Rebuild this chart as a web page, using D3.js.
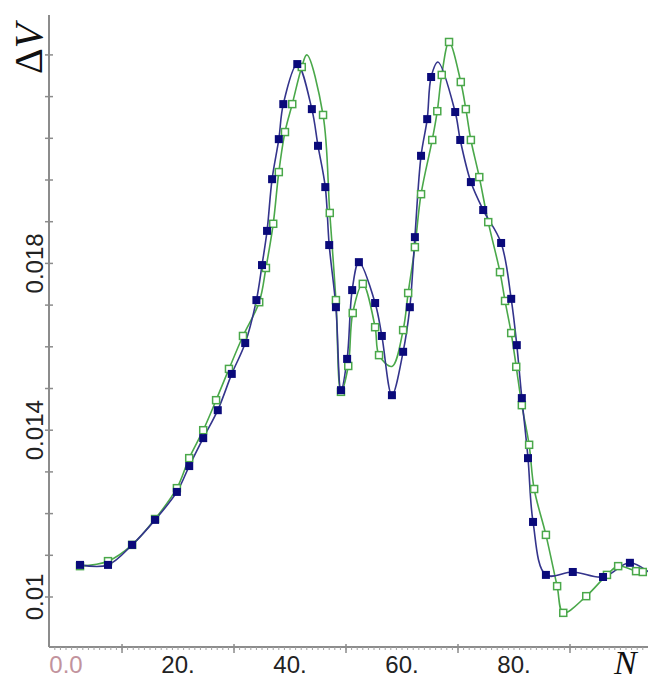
<!DOCTYPE html>
<html>
<head>
<meta charset="utf-8">
<script src="https://cdn.jsdelivr.net/npm/d3@7"></script>
<style>
  html, body { margin: 0; padding: 0; background: #fff; }
  svg { display: block; }
</style>
</head>
<body>
<svg id="chart" width="648" height="682"></svg>
<script>
// ---------- data ----------
// blue series: N, ΔV, marker flag (1 = square drawn, 0 = curve vertex only)
const blueN = [2.5, 7.5, 11.8, 15.9, 19.8, 22.0, 24.5, 27.1, 29.6, 32.0, 34.0, 35.0, 35.9, 36.8, 38.0, 38.8, 41.3,
  43.9, 45.0, 46.3, 47.0, 48.2, 49.1, 50.2, 51.1, 52.3, 55.2, 56.4, 58.2, 60.2, 61.4, 62.3, 63.4, 64.5, 65.2, 66.4,
  69.5, 70.4, 72.3, 74.5, 77.7, 79.5, 80.5, 81.4, 82.5, 83.4, 85.7, 90.5, 95.9, 100.7, 105.5];
const blueV = [0.01077, 0.01077, 0.01125, 0.01185, 0.01252, 0.01314, 0.01381, 0.01448, 0.01535, 0.01609, 0.01712, 0.01796, 0.01878, 0.02002, 0.02098, 0.02182, 0.02278,
  0.02170, 0.02082, 0.01983, 0.01844, 0.01695, 0.01496, 0.01571, 0.01736, 0.01803, 0.01705, 0.01626, 0.01484, 0.01588, 0.01695, 0.01863, 0.02058, 0.02146, 0.02247, 0.02283,
  0.02163, 0.02096, 0.01995, 0.01928, 0.01849, 0.01715, 0.01604, 0.01477, 0.01333, 0.01180, 0.01053, 0.01060, 0.01048, 0.01082, 0.01045];
const blueMark = [1,1,1,1,1,1,1,1,1,1,1,1,1,1,1,1,1,
  1,1,1,1,1,1,1,1,1,1,1,1,1,1,1,1,1,1,0,
  1,1,1,1,1,1,1,1,1,1,1,1,1,1,0];

// green series
const greenN = [2.5, 7.5, 11.8, 15.9, 19.8, 22.0, 24.5, 26.8, 29.1, 31.6, 34.5, 35.7, 37.0, 38.0, 39.1, 40.4, 42.1, 43.0,
  45.9, 47.1, 48.2, 49.1, 50.4, 51.2, 53.0, 55.2, 55.9, 58.2, 60.2, 61.1, 62.3, 63.4, 65.4, 66.3, 67.1, 68.4,
  70.5, 71.4, 72.3, 73.8, 75.4, 77.5, 78.4, 79.5, 80.4, 81.4, 82.7, 83.6, 85.7, 87.7, 88.8, 92.9, 96.6, 98.6, 101.8, 103.0];
const greenV = [0.01074, 0.01086, 0.01125, 0.01187, 0.01261, 0.01333, 0.01400, 0.01472, 0.01547, 0.01626, 0.01707, 0.01789, 0.01895, 0.02019, 0.02115, 0.02182, 0.02271, 0.02300,
  0.02156, 0.01921, 0.01712, 0.01492, 0.01554, 0.01681, 0.01751, 0.01647, 0.01580, 0.01553, 0.01640, 0.01729, 0.01839, 0.01966, 0.02096, 0.02165, 0.02252, 0.02331,
  0.02235, 0.02170, 0.02096, 0.02007, 0.01899, 0.01779, 0.01710, 0.01633, 0.01552, 0.01460, 0.01365, 0.01259, 0.01149, 0.01026, 0.00962, 0.01002, 0.01053, 0.01074, 0.01062, 0.01060];
const greenMark = [1,1,1,1,1,1,1,1,1,1,1,1,1,1,1,1,1,0,
  1,1,1,1,1,1,1,1,1,0,1,1,1,1,1,1,1,1,
  1,1,1,1,1,1,1,1,1,1,1,1,1,1,1,1,1,1,1,1];

// axes
const xTickValues = [0, 20, 40, 60, 80];
const xTickLabels = ["0.0", "20.", "40.", "60.", "80."];
const xMajorTicks = [10, 30, 50, 70, 90];
const yTickValues = [0.010, 0.014, 0.018];
const yTickLabels = ["0.01", "0.014", "0.018"];
const xTitle = "N";
const yTitle = ["Δ", "V"];

// ---------- drawing ----------
const svg = d3.select("#chart");
const x = d3.scaleLinear().domain([-3.04, 103.93]).range([49, 648]);
const y = d3.scaleLinear().domain([0.008801, 0.023957]).range([647, 15]);

const axisColor = "#8c8c8c";

// x axis line & ticks
svg.append("line").attr("x1", x(-3.04)).attr("x2", 648)
  .attr("y1", y(0.008801)).attr("y2", y(0.008801))
  .attr("stroke", axisColor).attr("stroke-width", 2);
const minor = d3.range(-2, 104, 1);
svg.append("g").selectAll("line").data(minor).join("line")
  .attr("x1", d => x(d)).attr("x2", d => x(d))
  .attr("y1", y(0.008801)).attr("y2", y(0.008801) + 3)
  .attr("stroke", "#a0a0a0").attr("stroke-width", 1);
svg.append("g").selectAll("line").data(xMajorTicks).join("line")
  .attr("x1", d => x(d)).attr("x2", d => x(d))
  .attr("y1", y(0.008801) - 3).attr("y2", y(0.008801) + 6)
  .attr("stroke", axisColor).attr("stroke-width", 1.5);

svg.append("g").selectAll("text").data(xTickValues).join("text")
  .attr("x", d => x(d)).attr("y", 673)
  .attr("text-anchor", "middle")
  .attr("font-family", "'Liberation Sans', Arial, sans-serif")
  .attr("font-size", 24)
  .attr("fill", (d, i) => i === 0 ? "#c2939d" : "#222")
  .text((d, i) => xTickLabels[i]);

// y axis line & ticks
svg.append("line").attr("x1", 49).attr("x2", 49)
  .attr("y1", y(0.008801)).attr("y2", y(0.023957))
  .attr("stroke", axisColor).attr("stroke-width", 2);
const yMinor = d3.range(10, 24, 1).map(k => k / 1000);
svg.append("g").selectAll("line").data(yMinor).join("line")
  .attr("x1", 45).attr("x2", 53)
  .attr("y1", d => y(d)).attr("y2", d => y(d))
  .attr("stroke", axisColor).attr("stroke-width", 1.5);

svg.append("g").selectAll("text").data(yTickValues).join("text")
  .attr("transform", d => `translate(43,${y(d)}) rotate(-90)`)
  .attr("text-anchor", "middle")
  .attr("font-family", "'Liberation Sans', Arial, sans-serif")
  .attr("font-size", 24)
  .attr("fill", "#222")
  .text((d, i) => yTickLabels[i]);

// axis titles
svg.append("text")
  .attr("x", 614).attr("y", 674)
  .attr("font-family", "'Liberation Serif', 'Times New Roman', serif")
  .attr("font-style", "italic")
  .attr("font-size", 34)
  .attr("fill", "#111")
  .text(xTitle);

const yt = svg.append("text")
  .attr("transform", "translate(42,74) rotate(-90)")
  .attr("font-family", "'Liberation Serif', 'Times New Roman', serif")
  .attr("font-size", 40)
  .attr("fill", "#111");
yt.append("tspan").text(yTitle[0]);
yt.append("tspan").attr("font-style", "italic").text(yTitle[1]);

// series
const blue = blueN.map((n, i) => ({ n, v: blueV[i], m: blueMark[i] }));
const green = greenN.map((n, i) => ({ n, v: greenV[i], m: greenMark[i] }));

const line = d3.line().x(d => x(d.n)).y(d => y(d.v)).curve(d3.curveCatmullRom.alpha(0.5));

svg.append("path").datum(green).attr("d", line)
  .attr("fill", "none").attr("stroke", "#4aa84a").attr("stroke-width", 1.6);
svg.append("path").datum(blue).attr("d", line)
  .attr("fill", "none").attr("stroke", "#34348c").attr("stroke-width", 1.6);

const gs = 7;
svg.append("g").selectAll("rect").data(green.filter(d => d.m)).join("rect")
  .attr("x", d => x(d.n) - gs / 2).attr("y", d => y(d.v) - gs / 2)
  .attr("width", gs).attr("height", gs)
  .attr("fill", "#fff").attr("stroke", "#4aa84a").attr("stroke-width", 1.5);

const bs = 8;
svg.append("g").selectAll("rect").data(blue.filter(d => d.m)).join("rect")
  .attr("x", d => x(d.n) - bs / 2).attr("y", d => y(d.v) - bs / 2)
  .attr("width", bs).attr("height", bs)
  .attr("fill", "#0a0a7a");
</script>
</body>
</html>
